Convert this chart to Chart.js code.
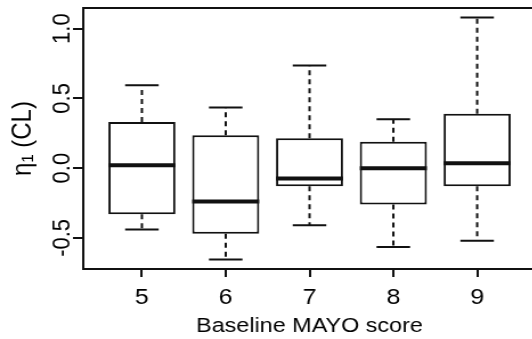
<!DOCTYPE html>
<html>
<head>
<meta charset="utf-8">
<script src="https://cdn.jsdelivr.net/npm/chart.js@4.4.1/dist/chart.umd.min.js"></script>
<style>
  html, body { margin: 0; padding: 0; background: #fff; overflow: hidden; width: 532px; height: 339px; }
  #wrap { width: 470px; height: 339px; transform: scaleX(1.14); transform-origin: 0 0; }
  canvas { display: block; }
</style>
</head>
<body>
<div id="wrap"><canvas id="c" width="470" height="339"></canvas></div>
<script>
// ---- data ----
const categories   = ['5', '6', '7', '8', '9'];
const lowerWhisker = [-0.44, -0.655, -0.41, -0.565, -0.52];
const q1           = [-0.33, -0.47, -0.13, -0.26, -0.13];
const medians      = [0.02, -0.24, -0.075, 0.0, 0.035];
const q3           = [0.33, 0.235, 0.215, 0.19, 0.39];
const upperWhisker = [0.595, 0.435, 0.735, 0.35, 1.08];
const yTickValues  = [-0.5, 0.0, 0.5, 1.0];
const xTitle = 'Baseline MAYO score';
const yTitle = 'η₁ (CL)';

const INK = '#111';
const FONT = '"Liberation Sans", Arial, sans-serif';

const boxData = categories.map((c, i) => ({ x: i + 1, y: [q1[i], q3[i]] }));

const boxPlugin = {
  id: 'boxExtras',
  afterDatasetsDraw(chart) {
    const { ctx, chartArea, scales: { x, y } } = chart;
    ctx.save();
    ctx.strokeStyle = INK;
    categories.forEach((c, i) => {
      const cx = x.getPixelForValue(i + 1);
      const halfBox = (x.getPixelForValue(i + 1.4) - x.getPixelForValue(i + 0.6)) / 2;
      const halfCap = halfBox / 2;
      // whiskers (dashed)
      ctx.lineWidth = 2;
      ctx.setLineDash([5, 4]);
      ctx.beginPath();
      ctx.moveTo(cx, y.getPixelForValue(q3[i]));
      ctx.lineTo(cx, y.getPixelForValue(upperWhisker[i]));
      ctx.moveTo(cx, y.getPixelForValue(q1[i]));
      ctx.lineTo(cx, y.getPixelForValue(lowerWhisker[i]));
      ctx.stroke();
      ctx.setLineDash([]);
      // caps
      ctx.lineWidth = 2;
      ctx.beginPath();
      const yu = y.getPixelForValue(upperWhisker[i]);
      const yl = y.getPixelForValue(lowerWhisker[i]);
      ctx.moveTo(cx - halfCap, yu); ctx.lineTo(cx + halfCap, yu);
      ctx.moveTo(cx - halfCap, yl); ctx.lineTo(cx + halfCap, yl);
      ctx.stroke();
      // median
      ctx.lineWidth = 4;
      ctx.beginPath();
      const ym = y.getPixelForValue(medians[i]);
      ctx.moveTo(cx - halfBox, ym); ctx.lineTo(cx + halfBox, ym);
      ctx.stroke();
    });
    // plot frame
    ctx.lineWidth = 2;
    ctx.strokeRect(chartArea.left, chartArea.top, chartArea.right - chartArea.left, chartArea.bottom - chartArea.top);
    ctx.restore();
  }
};

new Chart(document.getElementById('c'), {
  type: 'bar',
  data: {
    datasets: [{
      data: boxData,
      backgroundColor: '#ffffff',
      borderColor: INK,
      borderWidth: 2,
      borderSkipped: false,
      categoryPercentage: 1.0,
      barPercentage: 0.8
    }]
  },
  plugins: [boxPlugin],
  options: {
    responsive: false,
    devicePixelRatio: 1,
    animation: false,
    layout: { padding: { top: 8, left: 0, right: 0, bottom: 0 } },
    plugins: { legend: { display: false }, tooltip: { enabled: false } },
    scales: {
      x: {
        type: 'linear',
        offset: false,
        min: 0.3, max: 5.7,
        afterBuildTicks: (s) => { s.ticks = categories.map((c, i) => ({ value: i + 1 })); },
        afterFit: (s) => { s.height = 70; },
        grid: { display: true, offset: false, drawOnChartArea: false, drawTicks: true, tickLength: 8, color: INK, lineWidth: 2 },
        border: { display: false },
        ticks: {
          color: '#000', font: { family: FONT, size: 22 }, padding: 8,
          maxRotation: 0, minRotation: 0, autoSkip: false,
          callback: (v) => categories[Math.round(v) - 1]
        },
        title: { display: true, text: xTitle, color: '#000', font: { family: FONT, size: 20.5 }, padding: { top: 0, bottom: 0 } }
      },
      y: {
        type: 'linear',
        min: -0.723, max: 1.148,
        afterBuildTicks: (s) => { s.ticks = yTickValues.map(v => ({ value: v })); },
        afterFit: (s) => { s.width = 73; },
        grid: { display: true, drawOnChartArea: false, drawTicks: true, tickLength: 9, color: INK, lineWidth: 2 },
        border: { display: false },
        ticks: {
          color: '#000', font: { family: FONT, size: 22 }, padding: -10,
          minRotation: 90, maxRotation: 90, crossAlign: 'center', autoSkip: false,
          callback: (v) => Number(v).toFixed(1)
        },
        title: { display: true, text: yTitle, color: '#000', font: { family: FONT, size: 24 }, padding: { top: 6, bottom: 0 } }
      }
    }
  }
});
</script>
</body>
</html>
